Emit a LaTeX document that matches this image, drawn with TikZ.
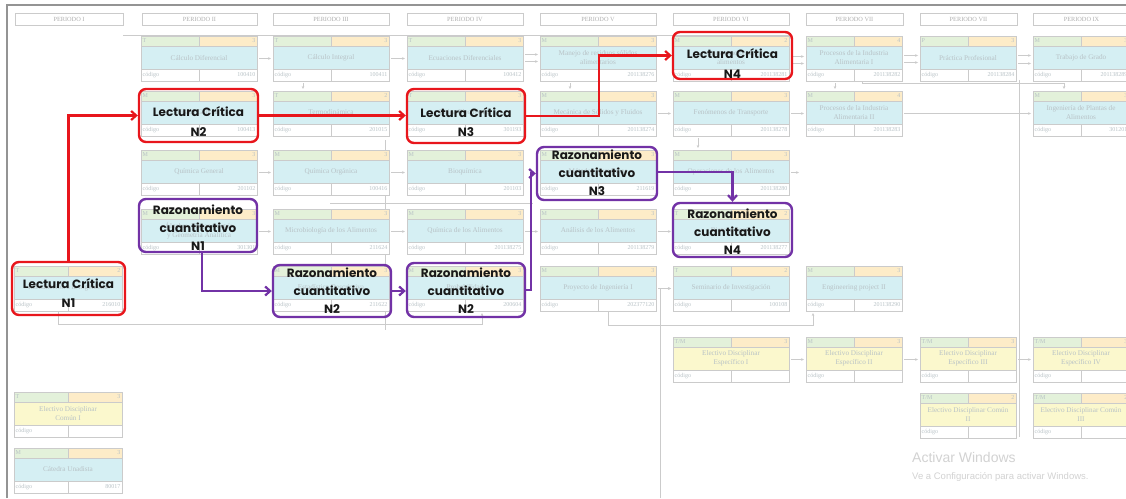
\documentclass[tikz,border=0pt]{standalone}
\usepackage{fontspec}
\setmainfont{Liberation Serif}
\newfontfamily\hlfont{Poppins}
\newfontfamily\wmfont{Liberation Sans}
\usetikzlibrary{arrows.meta,calc}

\definecolor{lcred}{HTML}{E8161C}
\definecolor{rcpurple}{HTML}{7232A6}
\definecolor{cardrule}{HTML}{CBCBCB}
\definecolor{stripg}{HTML}{E3F1DA}
\definecolor{stripo}{HTML}{FDECC8}
\definecolor{bodycyan}{HTML}{D5EFF3}
\definecolor{bodyyellow}{HTML}{FBF8CD}
\definecolor{faint}{HTML}{B8C2C6}
\definecolor{headgray}{HTML}{B0B0B0}
\definecolor{framegray}{HTML}{949494}
\definecolor{wmgray}{HTML}{D2D2D2}

\tikzset{
  cardframe/.style={draw=cardrule, line width=0.9pt, inner sep=0pt, outer sep=0pt},
  cardsmall/.style={text=faint, font=\fontsize{6}{7}\selectfont, inner sep=0.5pt},
  cardtitle/.style={text=faint, font=\fontsize{7.2}{8.5}\selectfont, align=center, inner sep=0pt},
  headbox/.style={draw=cardrule, fill=white, line width=0.9pt, inner sep=0pt, outer sep=0pt,
    text=headgray, font=\fontsize{6.3}{7}\selectfont, minimum height=12pt, anchor=north west},
  bgarrow/.style={draw=cardrule, line width=0.7pt, shorten >=2pt, shorten <=2pt,
    -{Stealth[length=3pt,width=2.6pt]}},
  bgline/.style={draw=cardrule, line width=0.7pt},
  hlbox/.style={rounded corners=7pt, line width=2.4pt, inner sep=0pt},
  lcbox/.style={hlbox, draw=lcred},
  rcbox/.style={hlbox, draw=rcpurple},
  lctext/.style={font=\hlfont\bfseries\fontsize{12}{19.5}\selectfont, align=center,
    inner sep=0pt, text=black!90},
  rctext/.style={font=\hlfont\bfseries\fontsize{12}{18}\selectfont, align=center,
    inner sep=0pt, text=black!90},
  lcarrow/.style={draw=lcred, line width=2.2pt, -{Straight Barb[length=5pt,width=9pt]}},
  rcarrow/.style={draw=rcpurple, line width=2.2pt, -{Straight Barb[length=5pt,width=9pt]}},
}

% course card: name, x, y (top-left), width, body colour, mode, credits, title, code
\newcommand{\coursecard}[9]{%
  \fill[stripg] (#2,#3) rectangle (#2+#4/2,#3+10);
  \fill[stripo] (#2+#4/2,#3) rectangle (#2+#4,#3+10);
  \fill[#5] (#2,#3+10) rectangle (#2+#4,#3+33);
  \fill[white] (#2,#3+33) rectangle (#2+#4,#3+45);
  \draw[cardrule, line width=0.7pt] (#2,#3+10) -- (#2+#4,#3+10) (#2,#3+33) -- (#2+#4,#3+33)
    (#2+#4/2,#3) -- (#2+#4/2,#3+10) (#2+#4/2,#3+33) -- (#2+#4/2,#3+45);
  \node[cardframe, minimum width=#4pt, minimum height=45pt, anchor=north west] (#1) at (#2,#3) {};
  \node[cardsmall, anchor=west] (#1-m) at (#2+1,#3+5) {#6};
  \node[cardsmall, anchor=east] (#1-c) at (#2+#4-1,#3+5) {#7};
  \node[cardtitle] (#1-t) at (#2+#4/2,#3+21.5) {#8};
  \node[cardsmall, anchor=west] (#1-k) at (#2+1,#3+39) {código};
  \node[cardsmall, anchor=east] (#1-n) at (#2+#4-1,#3+39) {#9};
}

\begin{document}
\begin{tikzpicture}[x=1pt, y=-1pt]
\useasboundingbox (0,0) rectangle (1126,498);
\fill[white] (0,0) rectangle (1126,498);
\clip (0,0) rectangle (1126,498);

% window frame
\draw[framegray, line width=2pt] (7,498) -- (7,5) -- (1126,5);

% period headers
\node[headbox, minimum width=108pt] (p1) at (15,13) {PERIODO I};
\node[headbox, minimum width=115pt] (p2) at (142,13) {PERIODO II};
\node[headbox, minimum width=116pt] (p3) at (273,13) {PERIODO III};
\node[headbox, minimum width=116pt] (p4) at (407,13) {PERIODO IV};
\node[headbox, minimum width=116pt] (p5) at (540,13) {PERIODO V};
\node[headbox, minimum width=116pt] (p6) at (673,13) {PERIODO VI};
\node[headbox, minimum width=97pt] (p7) at (806,13) {PERIODO VII};
\node[headbox, minimum width=97pt] (p8) at (920,13) {PERIODO VII};
\node[headbox, minimum width=97pt] (p9) at (1033,13) {PERIODO IX};

\draw[bgline] (123,35) -- (790,35);

% long background runs
\draw[bgline] (1019,80) -- (1019,437);
\draw[bgline] (385,140) -- (385,330);
\draw[bgline] (330,203) -- (533,203);

% course cards
\coursecard{c1r5}{14}{266}{108}{bodycyan}{T}{2}{Introducción a la Ingeniería}{216010}
\coursecard{c1e2}{14}{392}{108}{bodyyellow}{T}{3}{Electivo Disciplinar\\Común I}{}
\coursecard{c1b}{14}{448}{108}{bodycyan}{M}{3}{Cátedra Unadista}{80017}

\coursecard{c2r1}{141}{36}{116}{bodycyan}{T}{3}{Cálculo Diferencial}{100410}
\coursecard{c2r2}{141}{91}{116}{bodycyan}{M}{3}{Física General}{100413}
\coursecard{c2r3}{141}{150}{116}{bodycyan}{M}{3}{Química General}{201102}
\coursecard{c2r4}{141}{209}{116}{bodycyan}{M}{3}{Álgebra, Trigonometría\\y Geometría Analítica}{301301}

\coursecard{c3r1}{273}{36}{116}{bodycyan}{T}{3}{Cálculo Integral}{100411}
\coursecard{c3r2}{273}{91}{116}{bodycyan}{T}{2}{Termodinámica}{201015}
\coursecard{c3r3}{273}{150}{116}{bodycyan}{M}{3}{Química Orgánica}{100416}
\coursecard{c3r4}{273}{209}{116}{bodycyan}{M}{3}{Microbiología de los Alimentos}{211624}
\coursecard{c3r5}{273}{266}{116}{bodycyan}{M}{3}{Estadística Descriptiva}{211622}

\coursecard{c4r1}{407}{36}{116}{bodycyan}{T}{3}{Ecuaciones Diferenciales}{100412}
\coursecard{c4r2}{407}{91}{116}{bodycyan}{T}{3}{Física Electrónica}{301193}
\coursecard{c4r3}{407}{150}{116}{bodycyan}{M}{3}{Bioquímica}{201103}
\coursecard{c4r4}{407}{209}{116}{bodycyan}{M}{3}{Química de los Alimentos}{201138275}
\coursecard{c4r5}{407}{266}{116}{bodycyan}{M}{3}{Probabilidad}{200604}

\coursecard{c5r1}{540}{36}{116}{bodycyan}{M}{3}{Manejo de residuos sólidos\\alimentarios}{201138276}
\coursecard{c5r2}{540}{91}{116}{bodycyan}{M}{3}{Mecánica de Sólidos y Fluidos}{201138274}
\coursecard{c5r3}{540}{150}{116}{bodycyan}{M}{3}{Métodos Numéricos}{211619}
\coursecard{c5r4}{540}{209}{116}{bodycyan}{M}{3}{Análisis de los Alimentos}{201138279}
\coursecard{c5r5}{540}{266}{116}{bodycyan}{M}{3}{Proyecto de Ingeniería I}{202377120}

\coursecard{c6r1}{673}{36}{116}{bodycyan}{M}{2}{Conservación de\\alimentos}{201138281}
\coursecard{c6r2}{673}{91}{116}{bodycyan}{M}{3}{Fenómenos de Transporte}{201138278}
\coursecard{c6r3}{673}{150}{116}{bodycyan}{M}{3}{Operaciones de los Alimentos}{201138280}
\coursecard{c6r4}{673}{209}{116}{bodycyan}{T}{2}{Biotecnología}{201138277}
\coursecard{c6r5}{673}{266}{116}{bodycyan}{T}{2}{Seminario de Investigación}{100108}
\coursecard{c6e1}{673}{337}{116}{bodyyellow}{T/M}{3}{Electivo Disciplinar\\Específico I}{}

\coursecard{c7r1}{806}{36}{96}{bodycyan}{M}{4}{Procesos de la Industria\\Alimentaria I}{201138282}
\coursecard{c7r2}{806}{91}{96}{bodycyan}{M}{4}{Procesos de la Industria\\Alimentaria II}{201138283}
\coursecard{c7r5}{806}{266}{96}{bodycyan}{M}{3}{Engineering project II}{201138290}
\coursecard{c7e1}{806}{337}{96}{bodyyellow}{M}{3}{Electivo Disciplinar\\Específico II}{}

\coursecard{c8r1}{920}{36}{96}{bodycyan}{P}{3}{Práctica Profesional}{201138284}
\coursecard{c8e1}{920}{337}{96}{bodyyellow}{T/M}{3}{Electivo Disciplinar\\Específico III}{}
\coursecard{c8e2}{920}{393}{96}{bodyyellow}{T/M}{2}{Electivo Disciplinar Común\\II}{}

\coursecard{c9r1}{1033}{36}{96}{bodycyan}{M}{3}{Trabajo de Grado}{201138289}
\coursecard{c9r2}{1033}{91}{96}{bodycyan}{M}{3}{Ingeniería de Plantas de\\Alimentos}{301201}
\coursecard{c9e1}{1033}{337}{96}{bodyyellow}{T/M}{3}{Electivo Disciplinar\\Específico IV}{}
\coursecard{c9e2}{1033}{393}{96}{bodyyellow}{T/M}{2}{Electivo Disciplinar Común\\III}{}

% prerequisite links between courses
\draw[bgarrow] (c2r1.east) -- (c3r1.west);
\draw[bgarrow] (c3r1.east) -- (c4r1.west);
\draw[bgarrow] ([xshift=-28pt]c3r1.south) -- ([xshift=-28pt]c3r2.north);
\draw[bgarrow] ([yshift=4pt]c4r1.east) -- ([yshift=4pt]c5r1.west);
\draw[bgarrow] ([yshift=-3pt]c4r1.east) -- ([yshift=-3pt]c5r1.west);
\draw[bgarrow] ([xshift=-28pt]c5r1.south) -- ([xshift=-28pt]c5r2.north);
\draw[bgarrow] (c5r2.east) -- (c6r2.west);
\draw[bgarrow] ([xshift=-33pt]c6r2.south) -- ([xshift=-33pt]c6r3.north);
\draw[bgarrow] ([yshift=2pt]c6r1.east) -- ([yshift=2pt]c7r1.west);
\draw[bgarrow] ([yshift=-5pt]c6r1.east) -- ([yshift=-5pt]c7r1.west);
\draw[bgarrow] ([yshift=3pt]c7r1.east) -- ([yshift=3pt]c8r1.west);
\draw[bgarrow] ([yshift=-4pt]c7r1.east) -- ([yshift=-4pt]c8r1.west);
\draw[bgarrow] ([yshift=3pt]c8r1.east) -- ([yshift=3pt]c9r1.west);
\draw[bgarrow] ([yshift=-5pt]c8r1.east) -- ([yshift=-5pt]c9r1.west);
\draw[bgarrow] (c6r2.east) -- (c7r2.west);
\draw[bgarrow] ([xshift=-19pt]c7r1.south) -- ([xshift=-19pt]c7r2.north);
\draw[bgarrow] (c7r2.east) -- (c9r2.west);
\draw[bgarrow, shorten <=0pt] ([xshift=8pt]c7r1.south) -- ++(0,2) -| ([xshift=-17pt]c9r2.north);
\draw[bgarrow] (c2r3.east) -- (c3r3.west);
\draw[bgarrow] (c3r3.east) -- (c4r3.west);
\draw[bgarrow] (c2r4.east) -- (c3r4.west);
\draw[bgarrow] (c3r4.east) -- (c4r4.west);
\draw[bgarrow] (c4r4.east) -- (c5r4.west);
\draw[bgarrow] (c5r4.east) -- (c6r4.west);
\draw[bgarrow] (c6r3.east) -- ++(12,0);
\draw[bgarrow] (c5r5.east) -- (c6r5.west);
\draw[bgarrow] (c6e1.east) -- (c7e1.west);
\draw[bgarrow] (c7e1.east) -- (c8e1.west);
\draw[bgarrow] (c8e1.east) -- (c9e1.west);
\coordinate (lowrun) at (0,324);
\coordinate (feed) at (660,498);
\draw[bgarrow, shorten <=0pt] ([xshift=-10pt]c1r5.south) |- ([xshift=17pt]c4r5.south |- lowrun) -- ([xshift=17pt]c4r5.south);
\draw[bgarrow, shorten <=0pt] ([xshift=10pt]c5r5.south) |- ([xshift=-41pt]c7r5.south |- 0,325) -- ([xshift=-41pt]c7r5.south);
\draw[bgarrow, shorten <=0pt] (feed) |- (c6r5.west);

% Lectura Critica levels
\node[lcbox, minimum width=113pt, minimum height=53pt] (lc1) at (68.5,288.5) {};
\node[lcbox, minimum width=119pt, minimum height=53pt] (lc2) at (198.5,115.5) {};
\node[lcbox, minimum width=118pt, minimum height=54pt] (lc3) at (466,116) {};
\node[lcbox, minimum width=119pt, minimum height=47pt] (lc4) at (732.5,55.5) {};
\node[lctext] (lc1-txt) at ([yshift=-4.5pt]lc1.center) {Lectura Crítica\\N1};
\node[lctext] (lc2-txt) at ([yshift=-6pt]lc2.center) {Lectura Crítica\\N2};
\node[lctext] (lc3-txt) at ([yshift=-6pt]lc3.center) {Lectura Crítica\\N3};
\node[lctext] (lc4-txt) at ([yshift=-8pt]lc4.center) {Lectura Crítica\\N4};

% Razonamiento cuantitativo levels
\node[rcbox, minimum width=118pt, minimum height=53pt] (rc1) at (198,225.5) {};
\node[rcbox, minimum width=118pt, minimum height=52pt] (rc2a) at (332,291) {};
\node[rcbox, minimum width=118pt, minimum height=54pt] (rc2b) at (466,290) {};
\node[rcbox, minimum width=120pt, minimum height=53pt] (rc3) at (597,173.5) {};
\node[rcbox, minimum width=119pt, minimum height=54pt] (rc4) at (732.5,230) {};
\node[rctext] (rc1-txt) at ([yshift=-2.5pt]rc1.center) {Razonamiento\\cuantitativo\\N1};
\node[rctext] (rc2a-txt) at (rc2a.center) {Razonamiento\\cuantitativo\\N2};
\node[rctext] (rc2b-txt) at ([yshift=-1pt]rc2b.center) {Razonamiento\\cuantitativo\\N2};
\node[rctext] (rc3-txt) at ([yshift=1pt]rc3.center) {Razonamiento\\cuantitativo\\N3};
\node[rctext] (rc4-txt) at ([yshift=-1.5pt]rc4.center) {Razonamiento\\cuantitativo\\N4};

% progression arrows
\draw[lcarrow] (lc1.north) |- (lc2.west);
\draw[lcarrow] (lc2.east) -- (lc2.east -| lc3.west);
\draw[lcarrow] (lc3.east) -| ($(lc3.east)!0.5!(lc4.west)$) |- (lc4.west);
\draw[rcarrow] ([xshift=4pt]rc1.south) |- (rc2a.west);
\draw[rcarrow] (rc2a.east) -- (rc2a.east -| rc2b.west);
\draw[rcarrow] (rc2b.east) -| ($(rc2b.east)!0.5!(rc3.west)$) |- (rc3.west);
\draw[rcarrow] ([yshift=1.5pt]rc3.east) -| (rc4.north);

% activation notice
\node[anchor=west, inner sep=0pt, text=wmgray, font=\wmfont\fontsize{14}{16}\selectfont] (wm1) at (912,457) {Activar Windows};
\node[anchor=west, inner sep=0pt, text=wmgray, font=\wmfont\fontsize{9.5}{11}\selectfont] (wm2) at (912,477) {Ve a Configuración para activar Windows.};
\end{tikzpicture}
\end{document}
